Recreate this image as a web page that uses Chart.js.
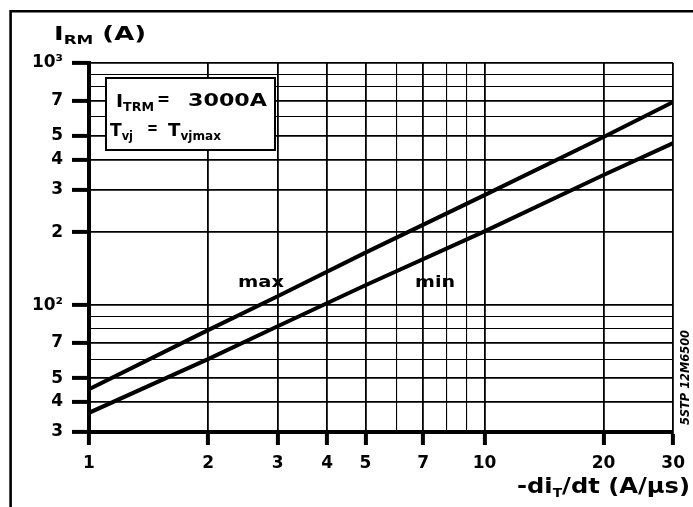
<!DOCTYPE html>
<html>
<head>
<meta charset="utf-8">
<script src="https://cdn.jsdelivr.net/npm/chart.js@4.4.1/dist/chart.umd.min.js"></script>
<style>
html,body{margin:0;padding:0;background:#fff;}
#wrap{width:693px;height:507px;}
</style>
</head>
<body>
<div id="wrap"><canvas id="c" width="693" height="507"></canvas></div>
<script>
// ---- data ----
const diDt      = [1, 2, 3, 5, 10, 20, 30];          // -di_T/dt (A/µs)
const irmMax    = [45, 79, 109, 165, 285, 495, 690];  // I_RM (A), "max" curve
const irmMin    = [36, 60, 82, 121, 202, 345, 467];   // I_RM (A), "min" curve

const xTickValues = [1, 2, 3, 4, 5, 7, 10, 20, 30];
const xTickLabels = ['1', '2', '3', '4', '5', '7', '10', '20', '30'];
const xMinorGrid  = [6, 8, 9];

const yTickValues = [30, 40, 50, 70, 100, 200, 300, 400, 500, 700, 1000];
const yTickLabels = ['3', '4', '5', '7', '10\u00B2', '2', '3', '4', '5', '7', '10\u00B3'];
const yMinorGrid  = [60, 80, 90, 600, 800, 900];

const FONT = '"DejaVu Sans", "Liberation Sans", sans-serif';

function labelFor(values, labels, v) {
  const i = values.findIndex(t => Math.abs(t - v) < 1e-9);
  return i >= 0 ? labels[i] : '';
}
function isLabeled(values, v) {
  return values.some(t => Math.abs(t - v) < 1e-9);
}

// draw text fitted horizontally into a given width
function drawFit(ctx, text, x, baseline, width, size, style) {
  ctx.save();
  ctx.font = (style || 'bold') + ' ' + size + 'px ' + FONT;
  ctx.textBaseline = 'alphabetic';
  ctx.textAlign = 'left';
  const w = ctx.measureText(text).width;
  ctx.translate(x, baseline);
  ctx.scale(width / w, 1);
  ctx.fillStyle = '#000';
  ctx.fillText(text, 0, 0);
  ctx.restore();
}
// draw a run of parts (with sub-scripts) scaled uniformly into a given width
function drawParts(ctx, parts, x, baseline, width) {
  ctx.save();
  ctx.textBaseline = 'alphabetic';
  ctx.textAlign = 'left';
  let total = 0;
  const ws = parts.map(p => {
    ctx.font = 'bold ' + p.size + 'px ' + FONT;
    const w = ctx.measureText(p.t).width;
    total += w;
    return w;
  });
  ctx.translate(x, baseline);
  ctx.scale(width / total, 1);
  ctx.fillStyle = '#000';
  let cx = 0;
  parts.forEach((p, i) => {
    ctx.font = 'bold ' + p.size + 'px ' + FONT;
    ctx.fillText(p.t, cx, p.dy || 0);
    cx += ws[i];
  });
  ctx.restore();
}

const decor = {
  id: 'decor',
  beforeDraw(chart) {
    const ctx = chart.ctx;
    ctx.save();
    ctx.fillStyle = '#fff';
    ctx.fillRect(0, 0, chart.width, chart.height);
    ctx.restore();
  },
  afterDraw(chart) {
    const ctx = chart.ctx;
    ctx.save();
    // outer frame (top and left)
    ctx.strokeStyle = '#000';
    ctx.lineWidth = 2.6;
    ctx.beginPath();
    ctx.moveTo(693, 11.3);
    ctx.lineTo(10.6, 11.3);
    ctx.lineTo(10.6, 507);
    ctx.stroke();

    // info box
    ctx.fillStyle = '#fff';
    ctx.fillRect(106, 78, 169, 72);
    ctx.lineWidth = 2;
    ctx.strokeRect(106, 78, 169, 72);
    ctx.restore();

    // y title  I_RM (A)
    drawParts(ctx, [
      { t: 'I', size: 20 },
      { t: 'RM', size: 13, dy: 4 },
      { t: ' (A)', size: 20 }
    ], 54, 40, 92);

    // x title  -di_T/dt (A/µs)
    drawParts(ctx, [
      { t: '-di', size: 21 },
      { t: 'T', size: 12, dy: 4 },
      { t: '/dt (A/\u00B5s)', size: 21 }
    ], 517, 493, 173);

    // info box text
    drawParts(ctx, [
      { t: 'I', size: 18 },
      { t: 'TRM', size: 12, dy: 4 }
    ], 116, 107, 38);
    drawFit(ctx, '=', 157, 105, 13, 18);
    drawFit(ctx, '3000A', 188, 106, 79, 18);
    drawParts(ctx, [
      { t: 'T', size: 18 },
      { t: 'vj', size: 12, dy: 4 }
    ], 110, 136, 23);
    drawFit(ctx, '=', 147, 134, 11, 18);
    drawParts(ctx, [
      { t: 'T', size: 18 },
      { t: 'vjmax', size: 12, dy: 4 }
    ], 168, 136, 53);

    // curve labels
    drawFit(ctx, 'max', 238, 287, 46, 16);
    drawFit(ctx, 'min', 415, 287, 40, 16);

    // vertical code
    ctx.save();
    ctx.translate(689, 425);
    ctx.rotate(-Math.PI / 2);
    ctx.font = 'bold italic 12px ' + FONT;
    const w = ctx.measureText('5STP 12M6500').width;
    ctx.scale(95 / w, 1);
    ctx.fillStyle = '#000';
    ctx.fillText('5STP 12M6500', 0, 0);
    ctx.restore();
  }
};

const ctx = document.getElementById('c').getContext('2d');
new Chart(ctx, {
  type: 'line',
  data: {
    datasets: [
      { label: 'max', data: diDt.map((x, i) => ({ x, y: irmMax[i] })) },
      { label: 'min', data: diDt.map((x, i) => ({ x, y: irmMin[i] })) }
    ]
  },
  options: {
    responsive: false,
    animation: false,
    events: [],
    layout: { padding: { left: 0, top: 63, right: 18, bottom: 0 } },
    elements: {
      line: { borderColor: '#000', borderWidth: 4, tension: 0, fill: false },
      point: { radius: 0 }
    },
    plugins: { legend: { display: false }, tooltip: { enabled: false } },
    scales: {
      x: {
        type: 'logarithmic',
        position: 'bottom',
        min: 1, max: 30,
        afterBuildTicks(scale) {
          scale.ticks = xTickValues.concat(xMinorGrid).sort((a, b) => a - b).map(v => ({ value: v }));
        },
        afterFit(scale) { scale.height = 75; },
        border: { display: true, color: '#000', width: 4 },
        grid: {
          color: '#000',
          lineWidth: c => isLabeled(xTickValues, c.tick.value) ? 1.8 : 1.1,
          drawTicks: true,
          tickLength: 13,
          tickWidth: c => isLabeled(xTickValues, c.tick.value) ? 4 : 0,
          tickColor: '#000'
        },
        ticks: {
          autoSkip: false,
          maxRotation: 0,
          padding: 8,
          color: '#000',
          font: { family: FONT, size: 17, weight: 'bold' },
          callback: v => labelFor(xTickValues, xTickLabels, v)
        }
      },
      y: {
        type: 'logarithmic',
        position: 'left',
        min: 30, max: 1000,
        afterBuildTicks(scale) {
          scale.ticks = yTickValues.concat(yMinorGrid).sort((a, b) => a - b).map(v => ({ value: v }));
        },
        afterFit(scale) { scale.width = 89; },
        border: { display: true, color: '#000', width: 4 },
        grid: {
          color: '#000',
          lineWidth: c => isLabeled(yTickValues, c.tick.value) ? 1.8 : 1.1,
          drawTicks: true,
          tickLength: 17,
          tickWidth: c => isLabeled(yTickValues, c.tick.value) ? 4 : 0,
          tickColor: '#000'
        },
        ticks: {
          autoSkip: false,
          padding: 9,
          color: '#000',
          font: { family: FONT, size: 17, weight: 'bold' },
          callback: v => labelFor(yTickValues, yTickLabels, v)
        }
      }
    }
  },
  plugins: [decor]
});
</script>
</body>
</html>
